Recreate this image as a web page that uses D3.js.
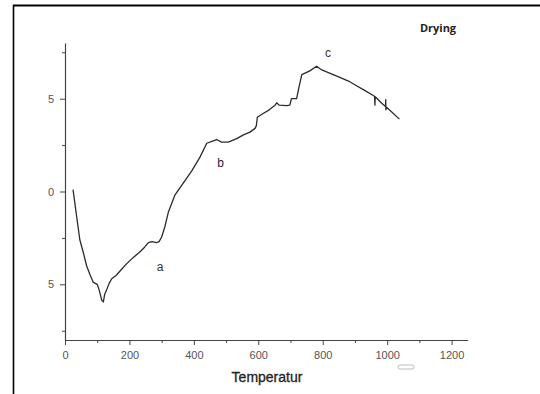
<!DOCTYPE html>
<html>
<head>
<meta charset="utf-8">
<script src="https://cdn.jsdelivr.net/npm/d3@7"></script>
<style>
  html, body { margin: 0; padding: 0; background: #fff; }
  svg { display: block; }
  .tick text { font-family: "Liberation Sans", Arial, sans-serif; }
</style>
</head>
<body>
<div id="chart"></div>
<script>
// curve: temperature vs signal
const temps = [25, 35, 46, 57, 67, 78, 88, 100, 106, 114, 119, 123, 129, 137, 145, 160, 175, 191, 212, 233,
  247, 259, 270, 284, 292, 300, 310, 321, 341, 367, 393, 419, 440, 456, 471, 486, 507, 533, 554, 574,
  590, 594, 597, 615, 634, 652, 657, 665, 688, 698, 703, 719, 726, 735, 760, 781, 797, 825, 853, 880,
  905, 930, 957, 961, 962, 963, 983, 995, 995.5, 996, 997, 1010, 1038];
const values = [0.1, -1.2, -2.6, -3.3, -4.0, -4.5, -4.9, -5.0, -5.3, -5.85, -5.95, -5.55, -5.3, -4.95, -4.7, -4.5, -4.2, -3.9, -3.55, -3.25,
  -3.0, -2.75, -2.7, -2.75, -2.7, -2.45, -1.9, -1.1, -0.2, 0.45, 1.1, 1.85, 2.6, 2.7, 2.8, 2.66, 2.66, 2.85, 3.05, 3.2,
  3.4, 3.55, 4.0, 4.2, 4.4, 4.65, 4.78, 4.65, 4.63, 4.65, 5.0, 5.0, 5.6, 6.3, 6.5, 6.75, 6.55, 6.35, 6.15, 5.95,
  5.7, 5.45, 5.17, 5.12, 4.65, 5.1, 4.75, 4.58, 4.95, 4.4, 4.55, 4.35, 3.9];

const xTicks = [0, 200, 400, 600, 800, 1000, 1200];
const xTickLabels = ["0", "200", "400", "600", "800", "1000", "1200"];
const xMinorTicks = [100, 300, 500, 700, 900, 1100];
const yTicks = [5, 0, -5];
const yTickLabels = ["5", "0", "5"];
const yMinorTicks = [7.5, 2.5, -2.5, -7.5];

const stageLabels = ["a", "b", "c"];
const stageT = [295, 483, 816];
const stageV = [-4.1, 1.5, 7.4];
const stageColors = ["#333", "#2a1d3a", "#333"];

const width = 540, height = 394;

const svg = d3.select('#chart').append('svg')
  .attr('width', width).attr('height', height);

svg.append('rect').attr('width', width).attr('height', height).attr('fill', '#fff');

// frame of the scanned figure
svg.append('line').attr('x1', 13).attr('x2', width).attr('y1', 5.5).attr('y2', 5.5)
  .attr('stroke', '#000').attr('stroke-width', 2);
svg.append('line').attr('x1', 13.5).attr('x2', 13.5).attr('y1', 5).attr('y2', height)
  .attr('stroke', '#000').attr('stroke-width', 1.6);

const xScale = d3.scaleLinear().domain([0, 1250]).range([65, 467.7]);
const yScale = d3.scaleLinear().domain([-8, 8]).range([340, 43]);

const axisColor = '#444';

// x axis
svg.append('g').attr('transform', `translate(0,${yScale.range()[0]})`)
  .call(d3.axisBottom(xScale).tickValues(xTicks).tickSize(5).tickSizeOuter(0).tickPadding(6)
    .tickFormat((d, i) => xTickLabels[i]));
svg.append('g').attr('transform', `translate(0,${yScale.range()[0]})`)
  .call(d3.axisBottom(xScale).tickValues(xMinorTicks).tickSize(3).tickFormat(''))
  .call(g => g.select('.domain').remove());

// y axis
svg.append('g').attr('transform', `translate(${xScale.range()[0]},0)`)
  .call(d3.axisLeft(yScale).tickValues(yTicks).tickSize(5).tickSizeOuter(0).tickPadding(6)
    .tickFormat((d, i) => yTickLabels[i]));
svg.append('g').attr('transform', `translate(${xScale.range()[0]},0)`)
  .call(d3.axisLeft(yScale).tickValues(yMinorTicks).tickSize(3).tickFormat(''))
  .call(g => g.select('.domain').remove());

svg.selectAll('.domain').attr('stroke', axisColor).attr('stroke-width', 1.2);
svg.selectAll('.tick line').attr('stroke', axisColor);
svg.selectAll('.tick text').attr('fill', '#555').style('font-size', '11px');

// axis title
svg.append('text')
  .attr('x', 267).attr('y', 382)
  .attr('text-anchor', 'middle')
  .style('font-family', '"Liberation Sans", Arial, sans-serif')
  .style('font-size', '14px')
  .attr('fill', '#222')
  .attr('stroke', '#222').attr('stroke-width', 0.3)
  .text('Temperatur');

// small scan artifact under 1000
svg.append('rect').attr('x', 398).attr('y', 365).attr('width', 16).attr('height', 4)
  .attr('rx', 2).attr('fill', 'none').attr('stroke', '#aaa').attr('stroke-width', 0.8);

// title
svg.append('text')
  .attr('x', 438).attr('y', 32)
  .attr('text-anchor', 'middle')
  .style('font-family', '"Open Sans", "Liberation Sans", sans-serif')
  .style('font-size', '11px')
  .style('font-weight', 'bold')
  .attr('fill', '#222')
  .text('Drying');

// curve
const pts = temps.map((t, i) => [t, values[i]]);
const line = d3.line().x(d => xScale(d[0])).y(d => yScale(d[1]));
svg.append('path')
  .datum(pts)
  .attr('d', line)
  .attr('fill', 'none')
  .attr('stroke', '#2b2b2b')
  .attr('stroke-width', 1.3)
  .attr('stroke-linejoin', 'round');

// stage letters
svg.selectAll('text.stage')
  .data(stageLabels)
  .join('text')
  .classed('stage', true)
  .attr('x', (d, i) => xScale(stageT[i]))
  .attr('y', (d, i) => yScale(stageV[i]))
  .attr('text-anchor', 'middle')
  .attr('dominant-baseline', 'middle')
  .style('font-family', '"Liberation Sans", Arial, sans-serif')
  .style('font-size', '12px')
  .attr('fill', (d, i) => stageColors[i])
  .text(d => d);
</script>
</body>
</html>
